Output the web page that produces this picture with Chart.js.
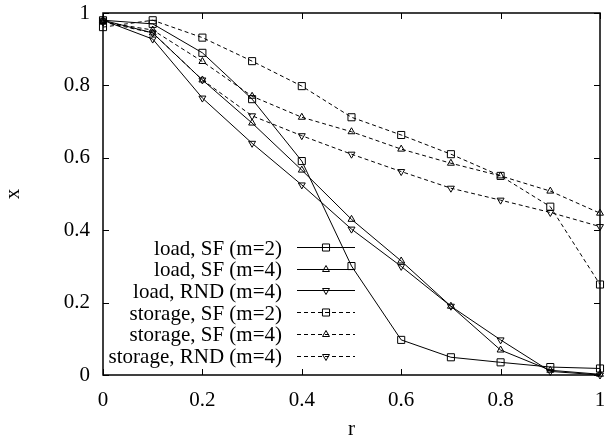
<!DOCTYPE html>
<html>
<head>
<meta charset="utf-8">
<script src="https://cdn.jsdelivr.net/npm/chart.js@4.4.1/dist/chart.umd.min.js"></script>
<style>
  html, body { margin: 0; padding: 0; background: #fff; }
  #wrap { width: 606px; height: 438px; }
</style>
</head>
<body>
<div id="wrap"><canvas id="grafico"></canvas></div>
<script>
// valores
const rValues = [0, 0.1, 0.2, 0.3, 0.4, 0.5, 0.6, 0.7, 0.8, 0.9, 1];
const xTicks = [0, 0.2, 0.4, 0.6, 0.8, 1];
const yTicks = [0, 0.2, 0.4, 0.6, 0.8, 1];

const loadSF2 = [0.98, 0.97, 0.89, 0.762, 0.591, 0.301, 0.097, 0.049, 0.035, 0.022, 0.018];
const loadSF4 = [0.98, 0.945, 0.815, 0.696, 0.566, 0.430, 0.315, 0.190, 0.069, 0.013, 0.002];
const loadRND4 = [0.98, 0.928, 0.765, 0.640, 0.525, 0.403, 0.300, 0.190, 0.097, 0.010, 0.0];
const storageSF2 = [0.961, 0.98, 0.932, 0.867, 0.798, 0.712, 0.663, 0.610, 0.550, 0.465, 0.250];
const storageSF4 = [0.975, 0.953, 0.866, 0.770, 0.712, 0.672, 0.624, 0.585, 0.550, 0.508, 0.447];
const storageRND4 = [0.975, 0.945, 0.815, 0.716, 0.661, 0.610, 0.562, 0.516, 0.483, 0.449, 0.410];

const FUENTE = 'Liberation Serif, Times New Roman, serif';
const TAM = 21;

function puntos(valores) {
    return rValues.map((r, i) => ({ x: r, y: valores[i] }));
}

function serie(label, valores, estilo, rotacion, discontinua) {
    return {
        label: label,
        data: puntos(valores),
        borderColor: '#000',
        backgroundColor: 'rgba(0,0,0,0)',
        borderWidth: 1,
        borderDash: discontinua ? [4, 3] : [],
        pointStyle: estilo,
        pointRotation: rotacion,
        pointRadius: estilo === 'rect' ? 5 : 4,
        pointBorderWidth: 1,
        pointBorderColor: '#000',
        pointBackgroundColor: 'rgba(0,0,0,0)',
        tension: 0,
        clip: false
    };
}

// marco y marcas hacia dentro (estilo gnuplot)
const marcoPlugin = {
    id: 'marco',
    afterDatasetsDraw(chart) {
        const { ctx, chartArea: a, scales } = chart;
        ctx.save();
        ctx.strokeStyle = '#000';
        ctx.lineWidth = 1;
        const largo = 6;
        ctx.beginPath();
        scales.x.ticks.forEach(t => {
            const px = Math.round(scales.x.getPixelForValue(t.value)) + 0.5;
            ctx.moveTo(px, a.bottom); ctx.lineTo(px, a.bottom - largo);
            ctx.moveTo(px, a.top); ctx.lineTo(px, a.top + largo);
        });
        scales.y.ticks.forEach(t => {
            const py = Math.round(scales.y.getPixelForValue(t.value)) + 0.5;
            ctx.moveTo(a.left, py); ctx.lineTo(a.left + largo, py);
            ctx.moveTo(a.right, py); ctx.lineTo(a.right - largo, py);
        });
        ctx.stroke();
        ctx.lineWidth = 1.5;
        ctx.strokeRect(a.left, a.top, a.right - a.left, a.bottom - a.top);
        ctx.restore();
    }
};

// leyenda dentro del area, texto alineado a la derecha
const leyendaPlugin = {
    id: 'leyendaInterna',
    afterDraw(chart) {
        const ctx = chart.ctx;
        const textoX = 282, lineaIni = 297, lineaFin = 355, marcaX = 326;
        const y0 = 247, paso = 21.7;
        ctx.save();
        ctx.font = TAM + 'px ' + FUENTE;
        ctx.textAlign = 'right';
        ctx.textBaseline = 'middle';
        chart.data.datasets.forEach((ds, i) => {
            const y = y0 + i * paso;
            const yl = Math.round(y) + 0.5;
            ctx.fillStyle = '#000';
            ctx.fillText(ds.label, textoX, y + 2);
            ctx.strokeStyle = '#000';
            ctx.lineWidth = 1;
            ctx.setLineDash(ds.borderDash);
            ctx.beginPath();
            ctx.moveTo(lineaIni, yl);
            ctx.lineTo(lineaFin, yl);
            ctx.stroke();
            ctx.setLineDash([]);
            ctx.fillStyle = 'rgba(0,0,0,0)';
            Chart.helpers.drawPoint(ctx, {
                pointStyle: ds.pointStyle,
                rotation: ds.pointRotation,
                radius: ds.pointRadius,
                borderWidth: 1
            }, marcaX, yl);
        });
        ctx.restore();
    }
};

const fmt = v => String(Number(v.toFixed(1)));

new Chart(document.getElementById('grafico'), {
    type: 'line',
    data: {
        datasets: [
            serie('load, SF (m=2)', loadSF2, 'rect', 0, false),
            serie('load, SF (m=4)', loadSF4, 'triangle', 0, false),
            serie('load, RND (m=4)', loadRND4, 'triangle', 180, false),
            serie('storage, SF (m=2)', storageSF2, 'rect', 0, true),
            serie('storage, SF (m=4)', storageSF4, 'triangle', 0, true),
            serie('storage, RND (m=4)', storageRND4, 'triangle', 180, true)
        ]
    },
    options: {
        responsive: true,
        maintainAspectRatio: false,
        animation: false,
        layout: { padding: { top: 13, right: 3, left: 0, bottom: 0 } },
        plugins: { legend: { display: false }, tooltip: { enabled: false } },
        scales: {
            x: {
                type: 'linear', min: 0, max: 1,
                afterBuildTicks: s => { s.ticks = xTicks.map(v => ({ value: v })); },
                afterFit: s => { s.height = 63; s.paddingLeft = 0; s.paddingRight = 0; },
                grid: { display: false, drawTicks: false },
                border: { display: false },
                ticks: { padding: 13, color: '#000', maxRotation: 0, autoSkip: false, font: { family: FUENTE, size: TAM }, callback: fmt },
                title: { display: true, text: 'r', color: '#000', font: { family: FUENTE, size: TAM, lineHeight: 0.85 }, padding: { top: 0, bottom: 0 } }
            },
            y: {
                type: 'linear', min: 0, max: 1,
                afterBuildTicks: s => { s.ticks = yTicks.map(v => ({ value: v })); },
                afterFit: s => { s.width = 103; s.paddingTop = 0; s.paddingBottom = 0; },
                grid: { display: false, drawTicks: false },
                border: { display: false },
                ticks: { padding: 13, color: '#000', autoSkip: false, font: { family: FUENTE, size: TAM }, callback: fmt },
                title: { display: true, text: 'x', color: '#000', font: { family: FUENTE, size: TAM }, padding: { top: 1, bottom: 0 } }
            }
        }
    },
    plugins: [marcoPlugin, leyendaPlugin]
});
</script>
</body>
</html>
